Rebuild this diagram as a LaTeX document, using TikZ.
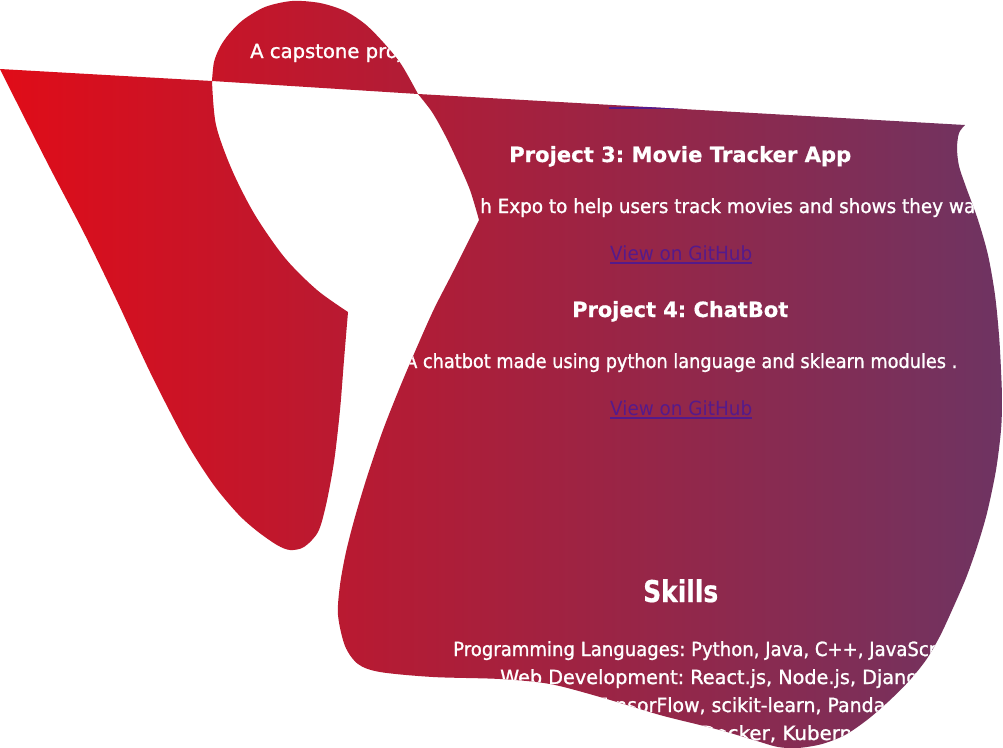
\documentclass[tikz,border=0pt]{standalone}
\usepackage{fontspec}
\setmainfont{DejaVu Sans}
\newfontfamily\bodyf{DejaVu Sans}[RawFeature={embolden=1.2}]
\newfontfamily\headf{DejaVu Sans Bold}[RawFeature={embolden=0.6}]
\usepackage{graphicx}
\frenchspacing
\definecolor{redL}{HTML}{E00C18}
\definecolor{purR}{HTML}{6E3462}
\definecolor{linkc}{HTML}{551A8B}
\newcommand\fitw[2]{\resizebox{#1pt}{\height}{#2}}
\tikzset{
  txt/.style={anchor=base west, inner sep=0pt, text=white, font=\bodyf\fontsize{19.5}{22}\selectfont},
  head/.style={txt, font=\headf\fontsize{21}{24}\selectfont},
  bighead/.style={txt, font=\headf\fontsize{30}{32}\selectfont},
  lnk/.style={txt, text=linkc, font=\setmainfont{DejaVu Sans}\fontsize{19.5}{22}\selectfont},
  uline/.style={draw=linkc, line width=1.2pt}
}
\begin{document}
\begin{tikzpicture}[x=1pt,y=-1pt]
\useasboundingbox (0,0) rectangle (1003,747);
\fill[white] (0,0) rectangle (1003,747);
\begin{scope}
\clip
  % top cap
  (418,94) -- (212,81) -- plot[smooth] coordinates {(212,81) (214,62) (220,47) (229,34) (243,20) (265,7) (292,1) (320,3) (345,11) (365,24) (383,42) (401,64) (418,94)} -- cycle
  % left arm
  (0,69) -- (212,81) -- plot[smooth] coordinates {(212,81) (216,125) (232,170) (255,215) (285,258) (317,290) (348,312)}
  -- plot[smooth] coordinates {(348,312) (344,360) (340,410) (334,462) (326,505) (318,532) (304,547) (290,550) (277,545) (257,531) (238,514) (213,484) (185,440) (150,372) (118,303) (85,235) (50,168) (16,101) (0,69)} -- cycle
  % right region
  (418,94) -- (965,125) -- plot[smooth] coordinates {(965,125) (959,133) (957,148) (959,166) (966,187) (978,220) (988,255) (995,295) (999,335) (1001,370) (1002,400) (1001,430) (996,470) (987,513) (977,547) (966,578) (953,608) (940,636) (926,660) (909,681) (889,701) (867,720) (845,735) (822,744) (798,748) (778,747) (757,741) (727,732) (700,725) (660,715) (600,697) (550,684) (500,679) (433,677) (380,672) (358,664) (345,646) (338,615) (340,585) (346,552) (355,517) (367,477) (383,430) (400,387) (417,347) (434,309) (454,270) (479,220)}
  -- plot[smooth] coordinates {(479,220) (470,190) (457,160) (445,135) (432,112) (418,94)} -- cycle;
\shade[left color=redL, right color=purR] (0,0) rectangle (1003,747);

\node[txt] (t1) at (250,58) {\fitw{153}{A capstone proj}};
\coordinate (u0a) at (609,108);
\coordinate (u0b) at (752,108);
\draw[uline] (u0a) -- (u0b);

\node[head] (t2) at (509,162) {\fitw{342}{Project 3: Movie Tracker App}};
\node[txt] (t3) at (480,213) {\fitw{495}{h Expo to help users track movies and shows they wa}};
\node[lnk] (l1) at (610,260) {\fitw{142}{View on GitHub}};
\draw[uline] ([yshift=-3pt]l1.base west) -- ([yshift=-3pt]l1.base east);

\node[head] (t4) at (572,317) {\fitw{216}{Project 4: ChatBot}};
\node[txt] (t5) at (405,368) {\fitw{552}{A chatbot made using python language and sklearn modules .}};
\node[lnk] (l2) at (610,415) {\fitw{142}{View on GitHub}};
\draw[uline] ([yshift=-3pt]l2.base west) -- ([yshift=-3pt]l2.base east);

\node[bighead] (t6) at (643,602) {\fitw{75}{Skills}};
\node[txt] (t7) at (453,656) {\fitw{488}{Programming Languages: Python, Java, C++, JavaScri}};
\node[txt] (t8) at (500,684) {\fitw{430}{Web Development: React.js, Node.js, Django}};
\node[txt] (t9) at (595,712) {\fitw{290}{TensorFlow, scikit-learn, Panda}};
\node[txt] (t10) at (700,740) {\fitw{152}{Docker, Kubern}};
\end{scope}
\end{tikzpicture}
\end{document}
